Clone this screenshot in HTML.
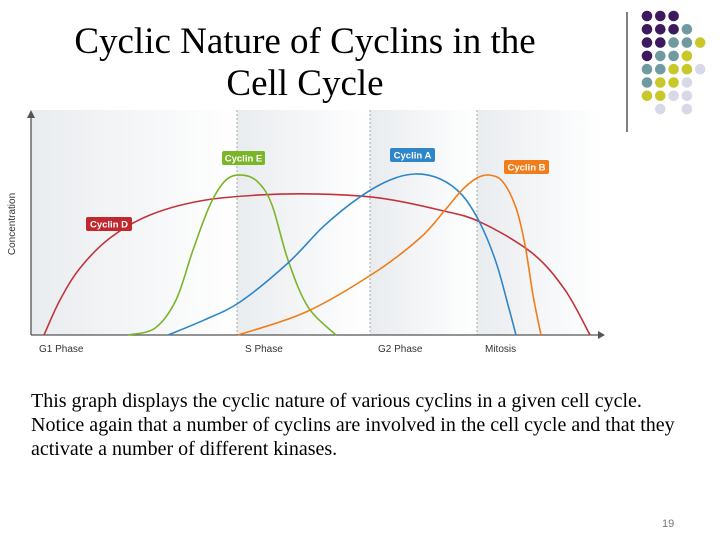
<!DOCTYPE html>
<html><head><meta charset="utf-8"><style>
body{margin:0;width:720px;height:540px;background:#fff;position:relative;overflow:hidden;font-family:"Liberation Serif",serif}
.title{position:absolute;left:0;width:610px;top:21px;text-align:center;font-size:37px;line-height:42px;color:#000}
.para{position:absolute;left:31px;top:389px;width:660px;font-size:20px;line-height:24px;color:#000}
.pn{position:absolute;left:662px;top:518px;font-family:"Liberation Sans",sans-serif;font-size:11px;color:#777}
</style></head><body>
<div class="title">Cyclic Nature of Cyclins in the<br>Cell Cycle</div>
<svg id="deco" width="720" height="140" style="position:absolute;left:0;top:0"></svg>
<svg id="chart" width="720" height="370" style="position:absolute;left:0;top:0"></svg>
<div class="para">This graph displays the cyclic nature of various cyclins in a given cell cycle. Notice again that a number of cyclins are involved in the cell cycle and that they activate a number of different kinases.</div>
<div class="pn">19</div>
<script>
const phases=["G1 Phase","S Phase","G2 Phase","Mitosis"];
const phaseStarts=[0,206,339,446];
const redT=[13,29,49,79,119,169,229,289,349,409,449,501,534,559];
const redC=[0,15.7,30,43.5,53.8,60.1,62.8,63.2,61.4,56,50.7,36.8,20.2,0];
const greenT=[97,124,145,162,179,195,211,227,241,257,277,305];
const greenC=[0,3.1,15.7,38.1,58.3,69.5,71.7,68.6,58.3,33.6,12.6,0];
const blueT=[137,173,209,257,293,329,359,384,409,431,449,465,477,485];
const blueC=[0,6.7,14.8,32.3,48.9,61.9,69.5,72.2,70,62.8,50.2,32.7,13.5,0];
const orangeT=[207,275,343,389,414,431,446,459,472,485,494,502,510];
const orangeC=[0,10.3,27.8,43.5,56,65,70.4,71.7,68.6,57,40.4,17.9,0];
const NS="http://www.w3.org/2000/svg";
const X=t=>31+t, Y=c=>335-c*2.23;
const svg=document.getElementById('chart');
function mk(tag,attrs,parent){const e=document.createElementNS(NS,tag);for(const k in attrs)e.setAttribute(k,attrs[k]);(parent||svg).appendChild(e);return e;}
const defs=mk('defs',{});
const g=mk('linearGradient',{id:'bg',x1:0,x2:1,y1:0,y2:0},defs);
mk('stop',{offset:0,'stop-color':'#e9ecef'},g);mk('stop',{offset:1,'stop-color':'#ffffff'},g);
const ends=phaseStarts.slice(1).concat([570]);
phaseStarts.forEach((s,i)=>{
 const r=mk('rect',{x:X(s),y:110,width:ends[i]-s,height:225,fill:'url(#bg)'});
 
 if(i>0){const l=mk('line',{x1:X(s),x2:X(s),y1:110,y2:335,stroke:'#aaa','stroke-dasharray':'2,2','stroke-width':1});
 }
 const tx=mk('text',{x:X(s)+8,y:352,'font-family':'Liberation Sans,sans-serif','font-size':10,fill:'#333'});
 tx.textContent=phases[i];
 
});
const ax=mk('path',{d:'M31,335 L600,335 M31,335 L31,116',stroke:'#555','stroke-width':1.3,fill:'none'});

mk('path',{d:'M605,335 L598,331 L598,339 Z M31,110 L27,118 L35,118 Z',fill:'#555'});
const yl=mk('text',{x:0,y:0,transform:'translate(15,224) rotate(-90)','text-anchor':'middle','font-family':'Liberation Sans,sans-serif','font-size':10,fill:'#333'});
yl.textContent='Concentration';
function curve(T,C,col,name){
 const p=T.map((t,i)=>[X(t),Y(C[i])]);let d='M'+p[0];
 for(let i=0;i<p.length-1;i++){const a=p[i-1]||p[i],b=p[i],c=p[i+1],e=p[i+2]||c;
  d+=` C${b[0]+(c[0]-a[0])/6},${b[1]+(c[1]-a[1])/6} ${c[0]-(e[0]-b[0])/6},${c[1]-(e[1]-b[1])/6} ${c[0]},${c[1]}`;}
 const el=mk('path',{d,stroke:col,'stroke-width':1.6,fill:'none'});
 
}
curve(redT,redC,'#c0343c','cyclin-d-line');
curve(greenT,greenC,'#7ab52a','cyclin-e-line');
curve(blueT,blueC,'#2e86c8','cyclin-a-line');
curve(orangeT,orangeC,'#f07d1a','cyclin-b-line');
function tag(x,y,w,txt,col,name){const gg=mk('g',{});
 mk('rect',{x,y,width:w,height:14,rx:2,fill:col},gg);
 const t=mk('text',{x:x+w/2,y:y+10.5,'text-anchor':'middle','font-family':'Liberation Sans,sans-serif','font-size':9.5,'font-weight':'bold',fill:'#fff'},gg);t.textContent=txt;}
tag(222,151,43,'Cyclin E','#7ab52a','cyclin-e-label');
tag(390,148,45,'Cyclin A','#2e86c8','cyclin-a-label');
tag(504,160,45,'Cyclin B','#f07d1a','cyclin-b-label');
tag(86,217,46,'Cyclin D','#c0282e','cyclin-d-label');
const deco=document.getElementById('deco');
const rows=["PPP","PPPT","PPTTY","PTTY","TTYYL","TYYL","YYLL",".L.L"];
const cols={P:'#3d1a5e',T:'#6f9aa0',Y:'#c8c82a',L:'#d8d8e8'};
const vl=document.createElementNS(NS,'line');
vl.setAttribute('x1',627);vl.setAttribute('x2',627);vl.setAttribute('y1',12);vl.setAttribute('y2',132);vl.setAttribute('stroke','#000');


deco.appendChild(vl);
rows.forEach((r,ri)=>[...r].forEach((ch,ci)=>{if(ch==='.')return;
 const c=document.createElementNS(NS,'circle');
 c.setAttribute('cx',647+ci*13.3);c.setAttribute('cy',16+ri*13.3);c.setAttribute('r',5.3);c.setAttribute('fill',cols[ch]);
 
 
 deco.appendChild(c);}));
</script>
</body></html>
